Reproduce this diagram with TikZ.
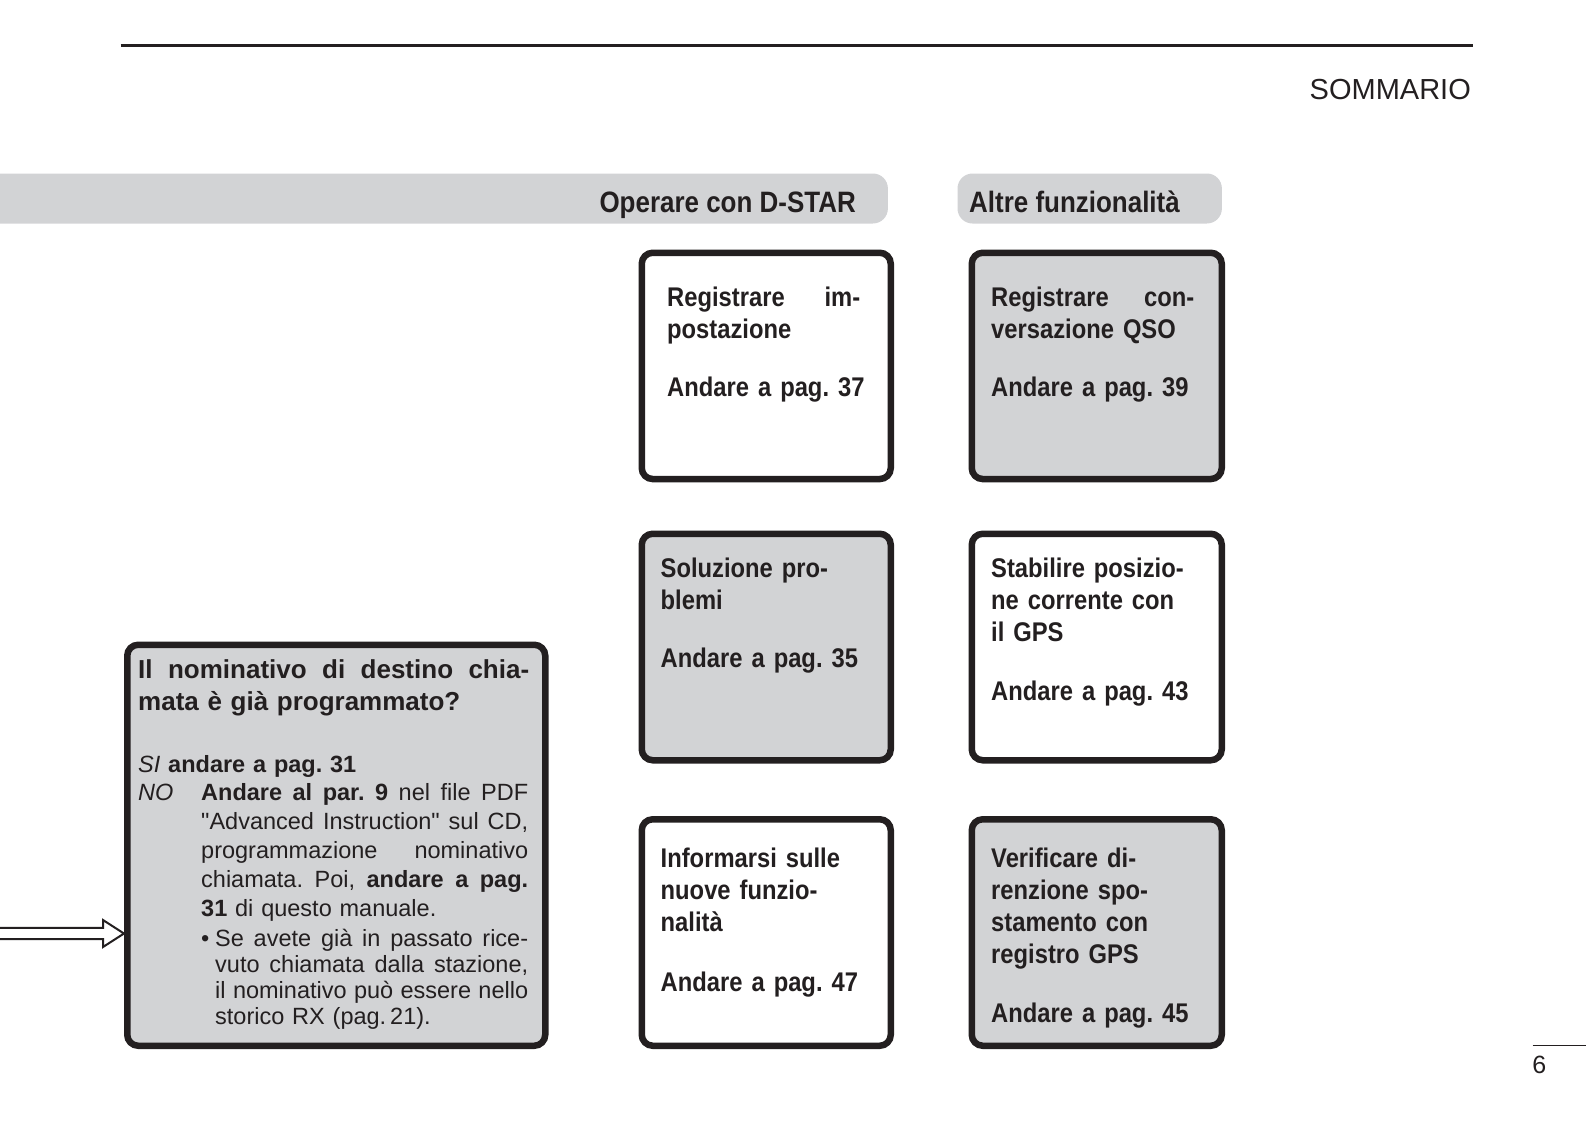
\documentclass[tikz,border=0pt]{standalone}
\usepackage{fontspec}
\setmainfont{Liberation Sans}
\newfontfamily\condfont[FakeStretch=0.88]{Liberation Sans}
\definecolor{panelgray}{HTML}{D2D3D5}
\definecolor{inkblack}{HTML}{231F20}
\newcommand{\jline}[2]{\leavevmode\hbox to #1{\spaceskip=\fontdimen2\font plus 1fil\relax #2}}
\frenchspacing

\begin{document}
\begin{tikzpicture}[x=1pt, y=-1pt,
    panel/.style={draw=inkblack, line width=6.5pt, rounded corners=11pt, inner sep=0pt, anchor=north west},
    band/.style={fill=panelgray, rounded corners=15pt, inner sep=0pt, anchor=north west, minimum height=50pt},
    boxtext/.style={anchor=base west, inner sep=0pt, text width=#1, align=left, text=inkblack,
      font=\condfont\bfseries\fontsize{27}{32}\selectfont},
    boxtext/.default=220pt,
    bandtext/.style={inner sep=0pt, text=inkblack, font=\condfont\bfseries\fontsize{29.5}{32}\selectfont},
    bodytext/.style={anchor=base west, inner sep=0pt, text width=#1, align=left, text=inkblack,
      font=\fontsize{23.5}{29}\selectfont},
    hollow/.style={draw=inkblack, line width=2pt, fill=white, line join=miter}]
  \useasboundingbox (0,0) rectangle (1586,1122);

  % page header
  \draw[inkblack, line width=3pt] (120.7,45) -- (1472.7,45);
  \node[anchor=base east, inner sep=0pt, text=inkblack, font=\fontsize{29}{32}\selectfont] (sommario) at (1471,99.5) {SOMMARIO};

  % section bands
  \node[band, minimum width=917.7pt] (dstarband) at (-30,173.3) {};
  \node[band, minimum width=264.4pt] (otherband) at (957.3,173.3) {};
  \node[bandtext, anchor=base east] (dstartitle) at (856,212) {Operare con D-STAR};
  \node[bandtext, anchor=base west] (othertitle) at (969,212) {Altre funzionalità};

  % panels
  \node[panel, fill=white, minimum width=249pt, minimum height=226.3pt] (setup) at (638.5,249.5) {};
  \node[panel, fill=panelgray, minimum width=250pt, minimum height=226.3pt] (qso) at (968.5,249.5) {};
  \node[panel, fill=panelgray, minimum width=249pt, minimum height=226.5pt] (trouble) at (638.5,530.5) {};
  \node[panel, fill=white, minimum width=250pt, minimum height=226.5pt] (gpspos) at (968.5,530.5) {};
  \node[panel, fill=white, minimum width=249pt, minimum height=226.5pt] (newfunc) at (638.5,816) {};
  \node[panel, fill=panelgray, minimum width=250pt, minimum height=226.5pt] (gpslog) at (968.5,816) {};
  \node[panel, fill=panelgray, minimum width=418pt, minimum height=401pt] (ask) at (124,641.5) {};

  % panel texts
  \node[boxtext] (setuptext) at (667,306) {\jline{193pt}{Registrare im-}\\postazione\\[26.5pt]Andare a pag. 37};
  \node[boxtext] (qsotext) at (991,306) {\jline{203pt}{Registrare con-}\\versazione QSO\\[26.5pt]Andare a pag. 39};
  \node[boxtext] (troubletext) at (660.5,577) {Soluzione pro-\\blemi\\[26.5pt]Andare a pag. 35};
  \node[boxtext] (gpspostext) at (991,577) {Stabilire posizio-\\ne corrente con\\il GPS\\[27pt]Andare a pag. 43};
  \node[boxtext] (newfunctext) at (660.5,867) {Informarsi sulle\\nuove funzio-\\nalità\\[28pt]Andare a pag. 47};
  \node[boxtext] (gpslogtext) at (991,867) {Verificare di-\\renzione spo-\\stamento con\\registro GPS\\[27pt]Andare a pag. 45};

  % question panel
  \node[boxtext=400pt, font=\bfseries\fontsize{26}{32}\selectfont] (askhead) at (138,678)
    {\jline{391pt}{Il nominativo di destino chia-}\\mata è già programmato?};
  \node[bodytext=300pt] (askyes) at (138,772) {\textit{SI} \textbf{andare a pag. 31}};
  \node[bodytext=340pt] (askno) at (201,800) {%
    \llap{\makebox[63pt][l]{\itshape NO}}\jline{327pt}{\textbf{Andare al par. 9} nel file PDF}\\
    \jline{327pt}{\textquotedbl Advanced Instruction\textquotedbl{} sul CD,}\\
    \jline{327pt}{programmazione nominativo}\\
    \jline{327pt}{chiamata. Poi, \textbf{andare a pag.}}\\
    \textbf{31} di questo manuale.\\[1pt]
    \makebox[14pt][l]{\textbullet}\jline{313pt}{Se avete già in passato rice-}\\[-3pt]
    \hspace*{14pt}\jline{313pt}{vuto chiamata dalla stazione,}\\[-3pt]
    \hspace*{14pt}\jline{313pt}{il nominativo può essere nello}\\[-2.5pt]
    \hspace*{14pt}storico RX (pag.\,21).};

  % entry arrow
  \coordinate (arrowtail) at (-5,933.5);
  \coordinate (arrowtip) at (ask.west |- arrowtail);
  \draw[hollow] ([shift={(0,-5.7)}]arrowtail) -- ([shift={(-21,-5.7)}]arrowtip) -- ([shift={(-21,-13.5)}]arrowtip)
    -- (arrowtip) -- ([shift={(-21,13.5)}]arrowtip) -- ([shift={(-21,5.7)}]arrowtip) -- ([shift={(0,5.7)}]arrowtail);

  % page number
  \draw[inkblack, line width=1.5pt] (1532.7,1045.7) -- (1590,1045.7);
  \node[anchor=base, inner sep=0pt, text=inkblack, font=\fontsize{25}{30}\selectfont] (pagenum) at (1539.3,1073) {6};
\end{tikzpicture}
\end{document}
